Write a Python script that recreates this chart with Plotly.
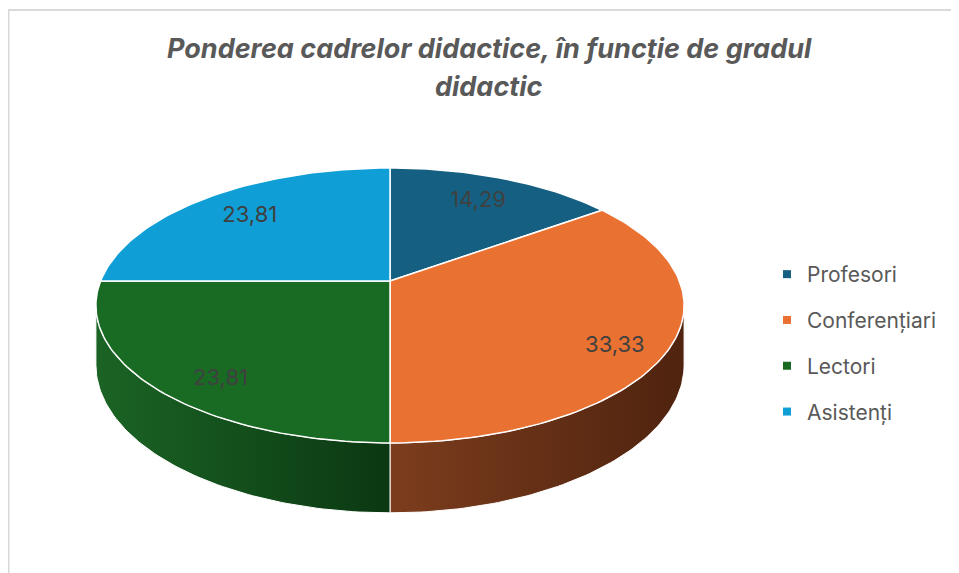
import numpy as np
import plotly.graph_objects as go

# ---------------- data ----------------
categories = ["Profesori", "Conferențiari", "Lectori", "Asistenți"]
values = [14.29, 33.33, 23.81, 23.81]
value_labels = ["14,29", "33,33", "23,81", "23,81"]
top_colors = ["#156082", "#E97132", "#196B24", "#0F9ED5"]
side_left_colors = ["#0d3b52", "#7c3d1d", "#1b6425", "#095f80"]
side_right_colors = ["#082638", "#4f230f", "#0b3812", "#063f55"]
title_lines = ["Ponderea cadrelor didactice, în funcție de gradul", "didactic"]

# ---------------- geometry (window pixel space) ----------------
W, H = 959, 573
OFF = 8                # page body margin
CX, CY = 390, 281      # projected pie centre
A, B, K = 289.4, 133.1, 0.178   # perspective ellipse parameters
D = 57.5               # thickness
LABEL_R = 0.75
FONT = "Inter"


def proj(u, v, z=0.0):
    den = 1 + K * v
    return CX + A * u / den, CY - B * v / den + D * z / den


vals = np.array(values, dtype=float)
cum = np.concatenate([[0], np.cumsum(vals)]) / vals.sum() * 2 * np.pi
vis_r = np.arccos(-K)             # right tangent point
vis_l = 2 * np.pi - np.arccos(-K) # left tangent point

fig = go.Figure()

# side faces
for i in range(len(values)):
    t0, t1 = max(cum[i], vis_r), min(cum[i + 1], vis_l)
    if t1 <= t0:
        continue
    th = np.linspace(t0, t1, 80)
    xt, yt = proj(np.sin(th), np.cos(th), 0)
    xb, yb = proj(np.sin(th), np.cos(th), 1)
    xs = np.concatenate([xt, xb[::-1], xt[:1]])
    ys = np.concatenate([yt, yb[::-1], yt[:1]])
    fig.add_trace(go.Scatter(
        x=xs, y=ys, mode="lines", fill="toself",
        line=dict(color="white", width=1),
        fillgradient=dict(type="horizontal",
                          colorscale=[[0, side_left_colors[i]], [1, side_right_colors[i]]],
                          start=float(xs.min()), stop=float(xs.max())),
        showlegend=False, hoverinfo="skip"))

# top faces
for i in range(len(values)):
    n = max(int((cum[i + 1] - cum[i]) / (2 * np.pi) * 300), 10)
    th = np.linspace(cum[i], cum[i + 1], n)
    xa, ya = proj(np.sin(th), np.cos(th), 0)
    xs = np.concatenate([[CX], xa, [CX]])
    ys = np.concatenate([[CY], ya, [CY]])
    fig.add_trace(go.Scatter(
        x=xs, y=ys, mode="lines", fill="toself", fillcolor=top_colors[i],
        line=dict(color="white", width=1.5),
        showlegend=False, name=categories[i],
        text=f"{categories[i]}: {value_labels[i]}", hoverinfo="text"))

# data labels
lx, ly = [], []
for i in range(len(values)):
    mid = (cum[i] + cum[i + 1]) / 2
    r = LABEL_R + 0.08 * max(0.0, np.sin(mid)) * max(0.0, -np.cos(mid)) * 2
    x, y = proj(r * np.sin(mid), r * np.cos(mid), 0)
    y += 0.5 * D * max(0.0, -np.cos(mid))
    lx.append(x)
    ly.append(y)
fig.add_trace(go.Scatter(
    x=lx, y=ly, mode="text", text=value_labels,
    textfont=dict(family=FONT, size=22, color="#404040"),
    showlegend=False, hoverinfo="skip"))

# legend entries
for i, c in enumerate(categories):
    fig.add_trace(go.Scatter(
        x=[None], y=[None], mode="markers", name=c,
        marker=dict(symbol="square", size=8, color=top_colors[i]),
        legendgroup=c, showlegend=True))

# title
for j, t in enumerate(title_lines):
    fig.add_annotation(
        x=489, y=48 + 38 * j, xref="x", yref="y", showarrow=False,
        text=f"<b><i>{t}</i></b>",
        font=dict(family=FONT, size=27, color="#595959"),
        xanchor="center", yanchor="middle")

# chart border
fig.add_shape(type="rect", xref="x", yref="y", x0=8.5, y0=10, x1=990, y1=600,
              line=dict(color="#d9d9d9", width=2), fillcolor="rgba(0,0,0,0)",
              layer="below")

fig.update_layout(
    width=W, height=H,
    margin=dict(l=0, r=0, t=0, b=0),
    paper_bgcolor="white", plot_bgcolor="white",
    xaxis=dict(range=[OFF, OFF + W], visible=False, fixedrange=True),
    yaxis=dict(range=[OFF + H, OFF], visible=False, fixedrange=True),
    legend=dict(
        x=(767 - OFF) / W, y=1 - (254 - OFF) / H, xanchor="left", yanchor="top",
        font=dict(family=FONT, size=21, color="#595959"),
        traceorder="grouped", tracegroupgap=15.5,
        itemwidth=30, bgcolor="rgba(0,0,0,0)"),
    showlegend=True,
)

fig.write_html("out.html")
